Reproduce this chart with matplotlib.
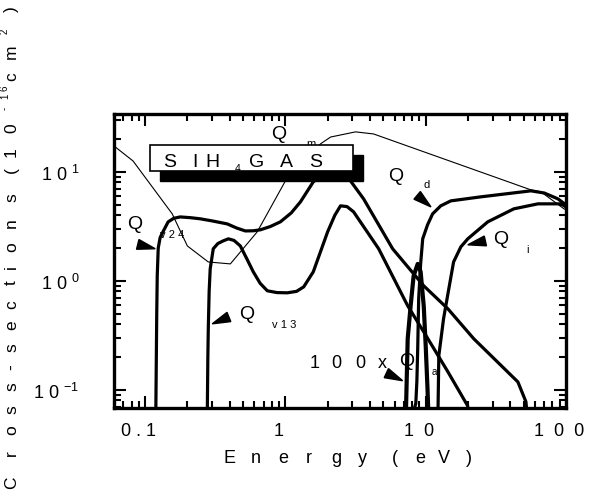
import numpy as np
import matplotlib
matplotlib.use("Agg")
import matplotlib.pyplot as plt
from matplotlib.patches import Rectangle, Polygon
from matplotlib.ticker import FixedLocator, LogLocator, NullFormatter, FixedFormatter
from matplotlib.transforms import ScaledTranslation, IdentityTransform

plt.rcParams['font.family'] = ['Liberation Sans', 'DejaVu Sans']
plt.rcParams['mathtext.default'] = 'regular'

W, H = 592, 502

# ---- cross-section curves (energy in eV, cross-section in 1e-16 cm^2) ----
qm_energy = [0.06, 0.082, 0.156, 0.20, 0.282, 0.405, 0.63, 1.0, 1.78, 2.1, 3.16, 4.25, 56.2, 66.3, 96.8, 100]
qm_value = [17.3, 12.6, 4.12, 2.09, 1.49, 1.43, 2.82, 8.27, 18.1, 20.9, 23.3, 22.3, 6.84, 6.56, 4.58, 4.5]

qv24_energy = [0.119, 0.121, 0.122, 0.124, 0.128, 0.135, 0.146, 0.16, 0.178, 0.21, 0.247, 0.30, 0.385,
               0.45, 0.518, 0.59, 0.663, 0.78, 0.921, 1.1, 1.28, 1.58, 2.1, 2.5, 2.91, 3.61, 5.81,
               9.68, 14.4, 22.0, 45.4, 51.8, 53.5]
qv24_value = [0.05, 0.5, 1.11, 2.0, 2.5, 2.87, 3.48, 3.75, 3.86, 3.8, 3.71, 3.55, 3.33,
              3.05, 2.87, 2.88, 2.94, 3.15, 3.48, 4.2, 5.31, 8.1, 10.7, 10.3, 8.27, 5.65, 1.97,
              0.9, 0.553, 0.294, 0.118, 0.0776, 0.05]

qv13_energy = [0.277, 0.280, 0.282, 0.286, 0.291, 0.306, 0.33, 0.361, 0.392, 0.43, 0.477, 0.53, 0.59,
               0.66, 0.743, 0.87, 1.03, 1.2, 1.35, 1.58, 2.0, 2.25, 2.47, 2.75, 3.06, 4.62, 7.44,
               9.68, 14.4, 19.9, 20.3]
qv13_value = [0.05, 0.2, 0.363, 0.8, 1.29, 1.97, 2.2, 2.33, 2.43, 2.35, 2.09, 1.6, 1.21,
              0.95, 0.81, 0.78, 0.776, 0.8, 0.88, 1.21, 2.82, 4.0, 4.88, 4.8, 4.3, 1.97, 0.59,
              0.34, 0.146, 0.0713, 0.05]

qd_energy = [8.1, 8.5, 8.65, 8.77, 8.91, 9.2, 9.52, 10.3, 11.2, 12.8, 15.1, 24.7, 56.2, 70.0, 87.7, 100]
qd_value = [0.06, 0.075, 0.12, 0.238, 0.684, 1.43, 2.43, 3.26, 4.12, 4.88, 5.42, 5.9, 6.7, 6.4, 5.65, 4.98]

qi_energy = [12.2, 12.3, 12.4, 13.4, 14.4, 15.8, 17.8, 19.95, 27.7, 42.5, 63.1, 92.1, 100]
qi_value = [0.05, 0.1, 0.205, 0.448, 0.76, 1.49, 2.05, 2.43, 3.48, 4.58, 5.09, 5.09, 4.77]

qa100_energy = [7.2, 7.44, 7.81, 8.2, 8.77, 9.2, 9.68, 10.0, 10.3, 10.5]
qa100_value = [0.05, 0.294, 0.59, 1.11, 1.43, 1.21, 0.59, 0.253, 0.102, 0.05]

x_ticks = [0.1, 1, 10, 100]
x_tick_labels = ['0 . 1', '1', '1  0', '1  0  0']
y_ticks = [0.1, 1, 10]
y_tick_labels = ['1 0 $^{-1}$', '1 0 $^{0}$', '1 0 $^{1}$']

fig = plt.figure(figsize=(W / 100, H / 100), dpi=100)
ax = fig.add_axes([114 / W, 1 - 409 / H, 452 / W, 294 / H])
ax.set_xscale('log')
ax.set_yscale('log')
ax.set_xlim(0.06, 100)
ax.set_ylim(0.068, 34)

thick = dict(color='black', lw=2.3, solid_capstyle='butt', solid_joinstyle='round', zorder=2)
ax.plot(qm_energy, qm_value, color='black', lw=0.8, zorder=2)
ax.plot(qv24_energy, qv24_value, **thick)
ax.plot(qv13_energy, qv13_value, **thick)
ax.plot(qd_energy, qd_value, **thick)
ax.plot(qi_energy, qi_value, **thick)
ax.plot(qa100_energy, qa100_value, color='black', lw=3.0, zorder=2)

# axes frame and ticks
for s in ax.spines.values():
    s.set_linewidth(2.4)
ax.xaxis.set_major_locator(FixedLocator(x_ticks))
ax.xaxis.set_major_formatter(FixedFormatter(x_tick_labels))
ax.yaxis.set_major_locator(FixedLocator(y_ticks))
ax.yaxis.set_major_formatter(FixedFormatter(y_tick_labels))
ax.xaxis.set_minor_locator(LogLocator(base=10, subs=np.arange(2, 10)))
ax.yaxis.set_minor_locator(LogLocator(base=10, subs=np.arange(2, 10)))
ax.xaxis.set_minor_formatter(NullFormatter())
ax.yaxis.set_minor_formatter(NullFormatter())
ax.tick_params(which='both', direction='in', top=True, right=True, width=1.5, labelsize=13)
ax.tick_params(which='major', length=8.5)
ax.tick_params(which='minor', length=5)
ax.tick_params(axis='x', which='major', pad=10)
ax.tick_params(axis='y', which='major', pad=25)
shift = ScaledTranslation(-0.07, 0, fig.dpi_scale_trans)
for lab in ax.get_xticklabels():
    lab.set_transform(lab.get_transform() + shift)


def glyphs(chars, xs, ys, size, rotation=0):
    """Place characters one by one at figure-pixel positions (top-left origin)."""
    for ch, x, y in zip(chars, xs, ys):
        fig.text(x / W, 1 - y / H, ch, ha='center', va='baseline', fontsize=size,
                 rotation=rotation, rotation_mode='anchor')


# axis titles, letter-spaced
glyphs('Energy', [230, 256, 283, 309, 336, 362], [463] * 6, 13)
glyphs('(eV)', [395, 420, 444, 469], [463] * 4, 13)

ylab = list('Cross-sections(10') + ['c', 'm', ')']
ylab_y = [483, 453, 430, 410, 387, 367, 348, 325, 305, 283, 267, 247, 223, 198, 170, 152, 128, 77, 52, 9]
glyphs(ylab, [16] * len(ylab), ylab_y, 12.5, rotation=90)
glyphs('-16', [8, 8, 8], [108, 96, 88], 7, rotation=90)
glyphs('2', [8], [31], 7, rotation=90)

# gas label box with drop shadow
ax.add_patch(Rectangle(((160 - 114) / 452, (409 - 182) / 294), 203 / 452, 26 / 294,
                       transform=ax.transAxes, facecolor='black', edgecolor='black', zorder=5))
ax.add_patch(Rectangle(((150 - 114) / 452, (409 - 172) / 294), 203 / 452, 26 / 294,
                       transform=ax.transAxes, facecolor='white', edgecolor='black', lw=1.2, zorder=6))
for ch, x in zip('SIHGAS', [170, 195, 212.5, 256.5, 286, 316]):
    t = fig.text(x / W, 1 - 167 / H, ch, ha='center', va='baseline', fontsize=14)
    t.set_zorder(7)
fig.text(238 / W, 1 - 172 / H, '4', ha='center', va='baseline', fontsize=7.5).set_zorder(7)


def wedge(tip, angle, length=18, width=10):
    """Filled arrowhead with its point at a data position, angle in degrees."""
    tx, ty = ax.transData.transform(tip)
    a = np.deg2rad(angle)
    ux, uy = np.cos(a), np.sin(a)
    bx, by = tx - length * ux, ty - length * uy
    px, py = -uy * width / 2, ux * width / 2
    ax.add_patch(Polygon([(tx, ty), (bx + px, by + py), (bx - px, by - py)], closed=True,
                         transform=IdentityTransform(), facecolor='black', edgecolor='black', zorder=4))


def qlabel(q_at, sub, sub_at, sub_size=8):
    ax.text(*q_at, 'Q', fontsize=14, ha='center', va='center', zorder=3)
    ax.text(*sub_at, sub, fontsize=sub_size, ha='left', va='center', zorder=3)


qlabel((0.0849, 3.33), 'v 2 4', (0.128, 2.7))
wedge((0.118, 1.97), -14)
qlabel((0.526, 0.498), 'v 1 3', (0.80, 0.403))
wedge((0.301, 0.403), -157.6)
qlabel((6.1, 9.19), 'd', (9.7, 7.76))
wedge((10.9, 4.77), -40)
qlabel((34.3, 2.43), 'i', (52.0, 1.97))
wedge((19.95, 2.14), -167.5)
qlabel((0.891, 22.3), 'm', (1.40, 18.5))
wedge((6.85, 0.121), -25)
for ch, x in zip('100x', [315, 336, 360, 382]):
    fig.text(x / W, 1 - 368 / H, ch, ha='center', va='baseline', fontsize=13)
ax.text(7.3, 0.1845, 'Q', fontsize=14, ha='center', va='center', zorder=3)
ax.text(11.6, 0.149, 'a', fontsize=7, ha='center', va='center', zorder=3)

fig.savefig('out.png', dpi=100, facecolor='white')
